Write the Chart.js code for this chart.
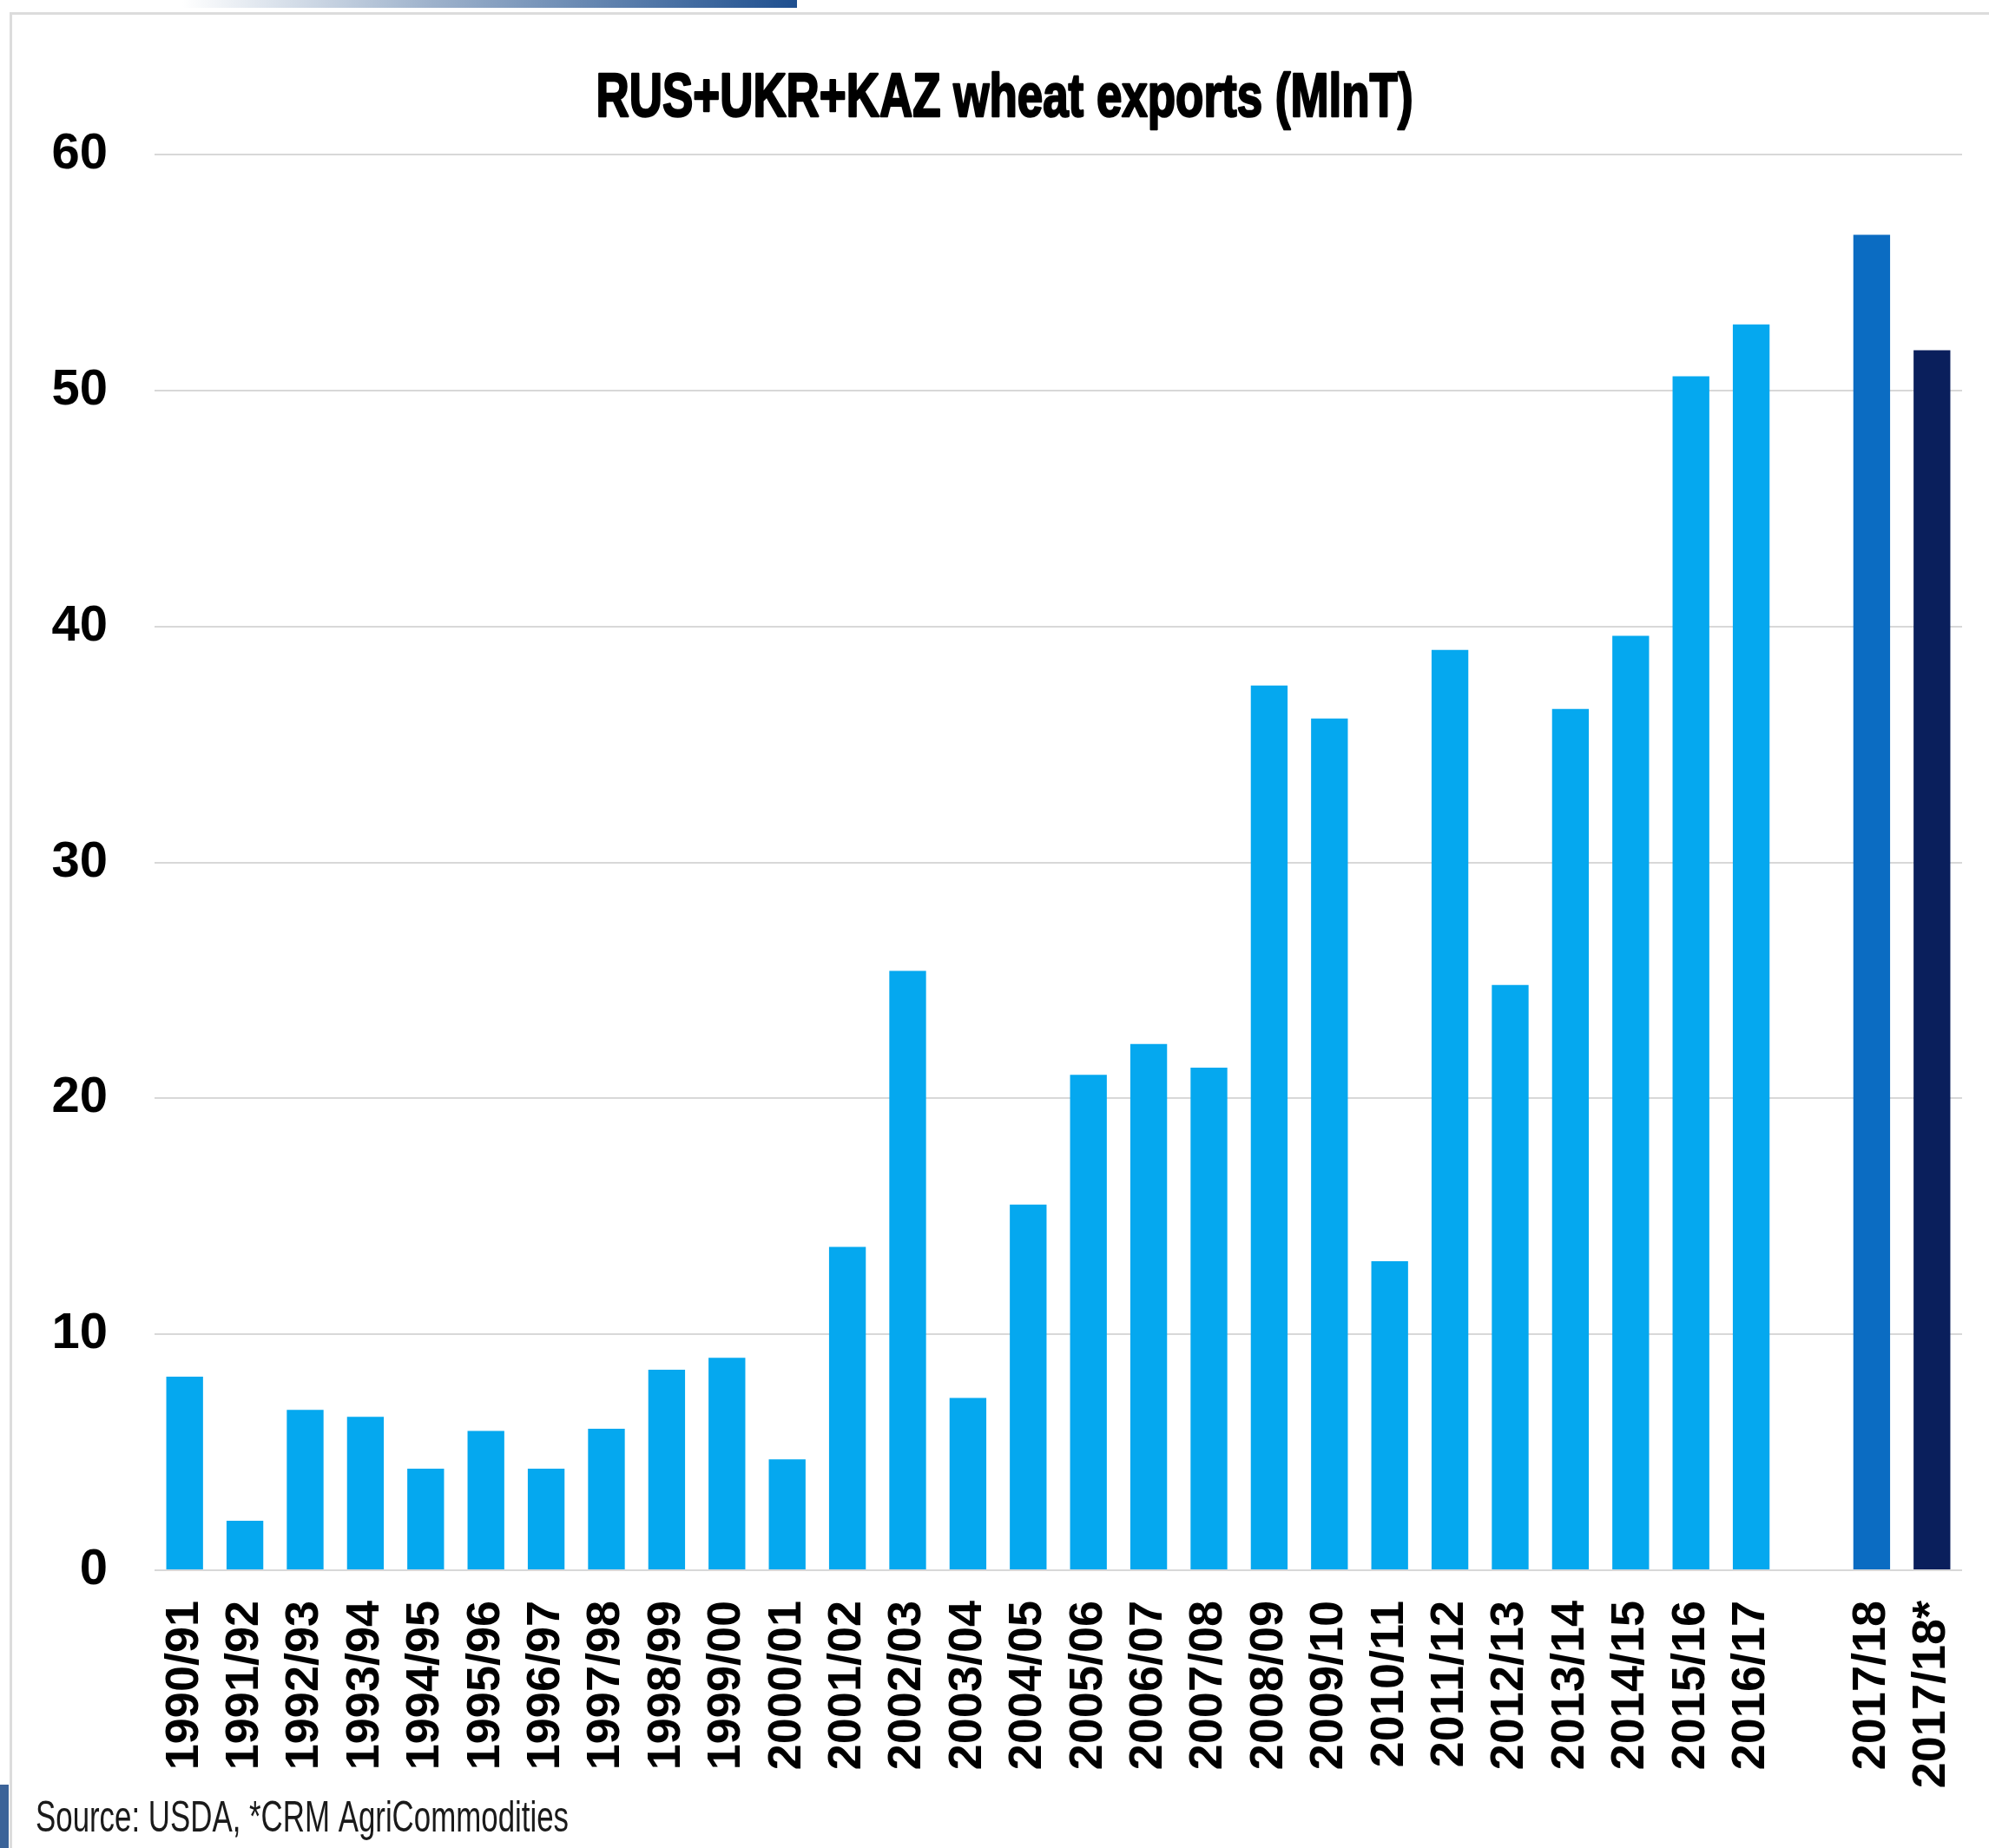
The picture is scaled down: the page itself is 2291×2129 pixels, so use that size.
<!DOCTYPE html>
<html>
<head>
<meta charset="utf-8">
<script src="https://cdn.jsdelivr.net/npm/chart.js@4.4.0/dist/chart.umd.min.js"></script>
<style>
  html, body { margin: 0; padding: 0; background: #ffffff; }
  #wrap { position: relative; width: 2291px; height: 2129px; overflow: hidden; background: #ffffff; }
  #topbar { position: absolute; left: 210px; top: 0; width: 708px; height: 9px;
            background: linear-gradient(to right, rgba(255,255,255,1) 0%, #9fb3cc 40%, #1e4f8f 100%); }
  #cardTop { position: absolute; left: 11px; top: 14px; right: 0; height: 3px; background: #dcdcdc; }
  #cardLeft { position: absolute; left: 11px; top: 14px; width: 3px; bottom: 0; background: #dcdcdc; }
  #blueTab { position: absolute; left: 0; top: 2056px; width: 10px; bottom: 0; background: #3b6398; }
  canvas { position: absolute; left: 0; top: 0; }
</style>
</head>
<body>
<div id="wrap">
  <div id="topbar"></div>
  <div id="cardTop"></div>
  <div id="cardLeft"></div>
  <div id="blueTab"></div>
  <canvas id="c" width="2291" height="2129"></canvas>
</div>
<script>
// ---- data ----
const categories = ['1990/91','1991/92','1992/93','1993/94','1994/95','1995/96','1996/97','1997/98',
  '1998/99','1999/00','2000/01','2001/02','2002/03','2003/04','2004/05','2005/06','2006/07','2007/08',
  '2008/09','2009/10','2010/11','2011/12','2012/13','2013/14','2014/15','2015/16','2016/17','',
  '2017/18','2017/18*'];
const exportsMlnT = [8.2, 2.1, 6.8, 6.5, 4.3, 5.9, 4.3, 6.0,
  8.5, 9.0, 4.7, 13.7, 25.4, 7.3, 15.5, 21.0, 22.3, 21.3,
  37.5, 36.1, 13.1, 39.0, 24.8, 36.5, 39.6, 50.6, 52.8, null,
  56.6, 51.7];
const yTickValues = [0, 10, 20, 30, 40, 50, 60];
const titleText = 'RUS+UKR+KAZ wheat exports (MlnT)';
const sourceText = 'Source: USDA, *CRM AgriCommodities';

// ---- styles ----
const LIGHT = '#05a8ef', MID = '#0b6cc2', NAVY = '#0a1f5c';
const SANS = "'Liberation Sans', Arial, sans-serif";

// condensed text (the original uses a narrow face): drawn as real canvas text, squeezed horizontally
function drawSqueezed(ctx, text, font, color, x, baseline, targetWidth, align, strokeW) {
  ctx.save();
  ctx.font = font;
  ctx.fillStyle = color;
  ctx.strokeStyle = color;
  ctx.textBaseline = 'alphabetic';
  const w = ctx.measureText(text).width;
  const sx = Math.min(1, targetWidth / w);
  ctx.translate(x, baseline);
  ctx.scale(sx, 1);
  ctx.textAlign = align;
  ctx.fillText(text, 0, 0);
  if (strokeW) { ctx.lineWidth = strokeW; ctx.lineJoin = 'round'; ctx.strokeText(text, 0, 0); }
  ctx.restore();
}

const textPlugin = {
  id: 'slideText',
  afterDraw(chart) {
    const ctx = chart.ctx;
    drawSqueezed(ctx, titleText, "bold 71px " + SANS, '#000000', 1157, 134, 941, 'center', 2.5);
    drawSqueezed(ctx, sourceText, "normal 50px " + SANS, '#1a1a1a', 41, 2110, 614, 'left', 0);
  }
};

const n = categories.length;
new Chart(document.getElementById('c'), {
  type: 'bar',
  data: {
    labels: categories,
    datasets: [{
      data: exportsMlnT,
      backgroundColor: ctx => ctx.dataIndex === n - 1 ? NAVY : (ctx.dataIndex === n - 2 ? MID : LIGHT),
      borderWidth: 0,
      barPercentage: 0.61,
      categoryPercentage: 1.0
    }]
  },
  plugins: [textPlugin],
  options: {
    responsive: false,
    devicePixelRatio: 1,
    animation: false,
    layout: { padding: { left: 41, right: 31, top: 178, bottom: 60 } },
    plugins: {
      legend: { display: false },
      tooltip: { enabled: false },
      title: { display: false },
      subtitle: { display: false }
    },
    scales: {
      x: {
        grid: { display: false, drawTicks: false },
        border: { display: false },
        afterFit: s => { s.height = 260; s.paddingLeft = 0; s.paddingRight = 0; },
        ticks: {
          color: '#000000', autoSkip: false, minRotation: 90, maxRotation: 90, padding: 35,
          font: { family: SANS, weight: 'bold', size: 54 }
        }
      },
      y: {
        min: 0, max: 60,
        afterFit: s => { s.width = 137; s.paddingTop = 0; s.paddingBottom = 0; },
        afterBuildTicks: s => { s.ticks = yTickValues.map(v => ({ value: v })); },
        grid: { color: '#d8d8d8', lineWidth: 2, drawTicks: false },
        border: { display: false },
        ticks: {
          color: '#000000', padding: 54,
          font: { family: SANS, weight: 'bold', size: 58 }
        }
      }
    }
  }
});
</script>
</body>
</html>
